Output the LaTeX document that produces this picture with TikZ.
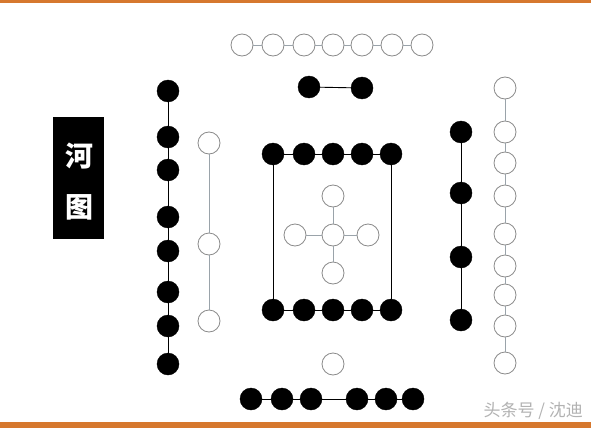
\documentclass[tikz,border=0pt]{standalone}
\usepackage{fontspec}
\newfontfamily\cjk{Noto Sans CJK SC}
\definecolor{barorange}{HTML}{D6782E}
\definecolor{wline}{HTML}{9AA3AA}
\definecolor{wedge}{HTML}{8A8A8A}
\tikzset{
  blk/.style={circle,fill=black,draw=black,inner sep=0pt,minimum size=22pt},
  wht/.style={circle,fill=white,draw=wedge,line width=0.8pt,inner sep=0pt,minimum size=22pt},
  bline/.style={draw=black,line width=0.9pt},
  wlink/.style={draw=wline,line width=0.8pt},
}
\begin{document}
\begin{tikzpicture}[x=1pt,y=-1pt]
\useasboundingbox (0,0) rectangle (591,428);
\fill[white] (0,0) rectangle (591,428);
\fill[barorange] (0,0) rectangle (591,3);
\fill[barorange] (0,422) rectangle (591,428);
% title box
\node[fill=black,minimum width=51pt,minimum height=122pt,inner sep=0pt,anchor=north west] (tbox) at (53,117) {};
\node[text=white,font=\cjk\fontsize{28}{28}\selectfont\bfseries] (t1) at (79,156) {河};
\node[text=white,font=\cjk\fontsize{28}{28}\selectfont\bfseries] (t2) at (79,207) {图};
% watermark
\node[text=gray!60,font=\cjk\fontsize{17}{17}\selectfont,anchor=east,inner sep=0pt] (wm) at (583,411) {头条号 / 沈迪};

% top white row (7)
\foreach \i/\x in {1/242,2/273,3/304,4/333,5/362,6/392,7/422}
  \node[wht] (tw\i) at (\x,45) {};
\foreach \i/\j in {1/2,2/3,3/4,4/5,5/6,6/7}
  \draw[wlink] (tw\i) -- (tw\j);
% black pair
\node[blk] (bp1) at (309,87) {};
\node[blk] (bp2) at (362,88) {};
\draw[bline] (bp1) -- (bp2);

% left black column (8)
\foreach \i/\y in {1/91,2/137,3/170,4/217,5/251,6/292,7/326,8/364}
  \node[blk] (lb\i) at (168,\y) {};
\foreach \i/\j in {1/2,2/3,3/4,4/5,5/6,6/7,7/8}
  \draw[bline] (lb\i) -- (lb\j);
% left white column (3)
\node[wht] (lw1) at (209,143) {};
\node[wht] (lw2) at (209,244) {};
\node[wht] (lw3) at (209,321) {};
\draw[wlink] (lw1) -- (lw2);
\draw[wlink] (lw2) -- (lw3);

% centre square
\foreach \i/\x in {1/273,2/304,3/333,4/362,5/391}{
  \node[blk] (ct\i) at (\x,154) {};
  \node[blk] (cb\i) at (\x,310) {};
}
\foreach \i/\j in {1/2,2/3,3/4,4/5}{
  \draw[bline] (ct\i) -- (ct\j);
  \draw[bline] (cb\i) -- (cb\j);
}
\draw[bline] (ct1) -- (cb1);
\draw[bline] (ct5) -- (cb5);
% centre cross
\node[wht] (cc) at (333,235) {};
\node[wht] (cn) at (333,196) {};
\node[wht] (cs) at (333,273) {};
\node[wht] (cw) at (295,235) {};
\node[wht] (ce) at (368,235) {};
\foreach \n in {cn,cs,cw,ce}
  \draw[wlink] (cc) -- (\n);

% right black column (4)
\foreach \i/\y in {1/132,2/193,3/257,4/320}
  \node[blk] (rb\i) at (461,\y) {};
\foreach \i/\j in {1/2,2/3,3/4}
  \draw[bline] (rb\i) -- (rb\j);
% right white column (9)
\foreach \i/\y in {1/88,2/132,3/163,4/196,5/234,6/266,7/295,8/326,9/363}
  \node[wht] (rw\i) at (505,\y) {};
\foreach \i/\j in {1/2,2/3,3/4,4/5,5/6,6/7,7/8,8/9}
  \draw[wlink] (rw\i) -- (rw\j);

% bottom white single
\node[wht] (bw) at (333,364) {};
% bottom black row (6)
\foreach \i/\x in {1/251,2/282,3/311,4/357,5/386,6/413}
  \node[blk] (bb\i) at (\x,399) {};
\foreach \i/\j in {1/2,2/3,3/4,4/5,5/6}
  \draw[bline] (bb\i) -- (bb\j);
\end{tikzpicture}
\end{document}
